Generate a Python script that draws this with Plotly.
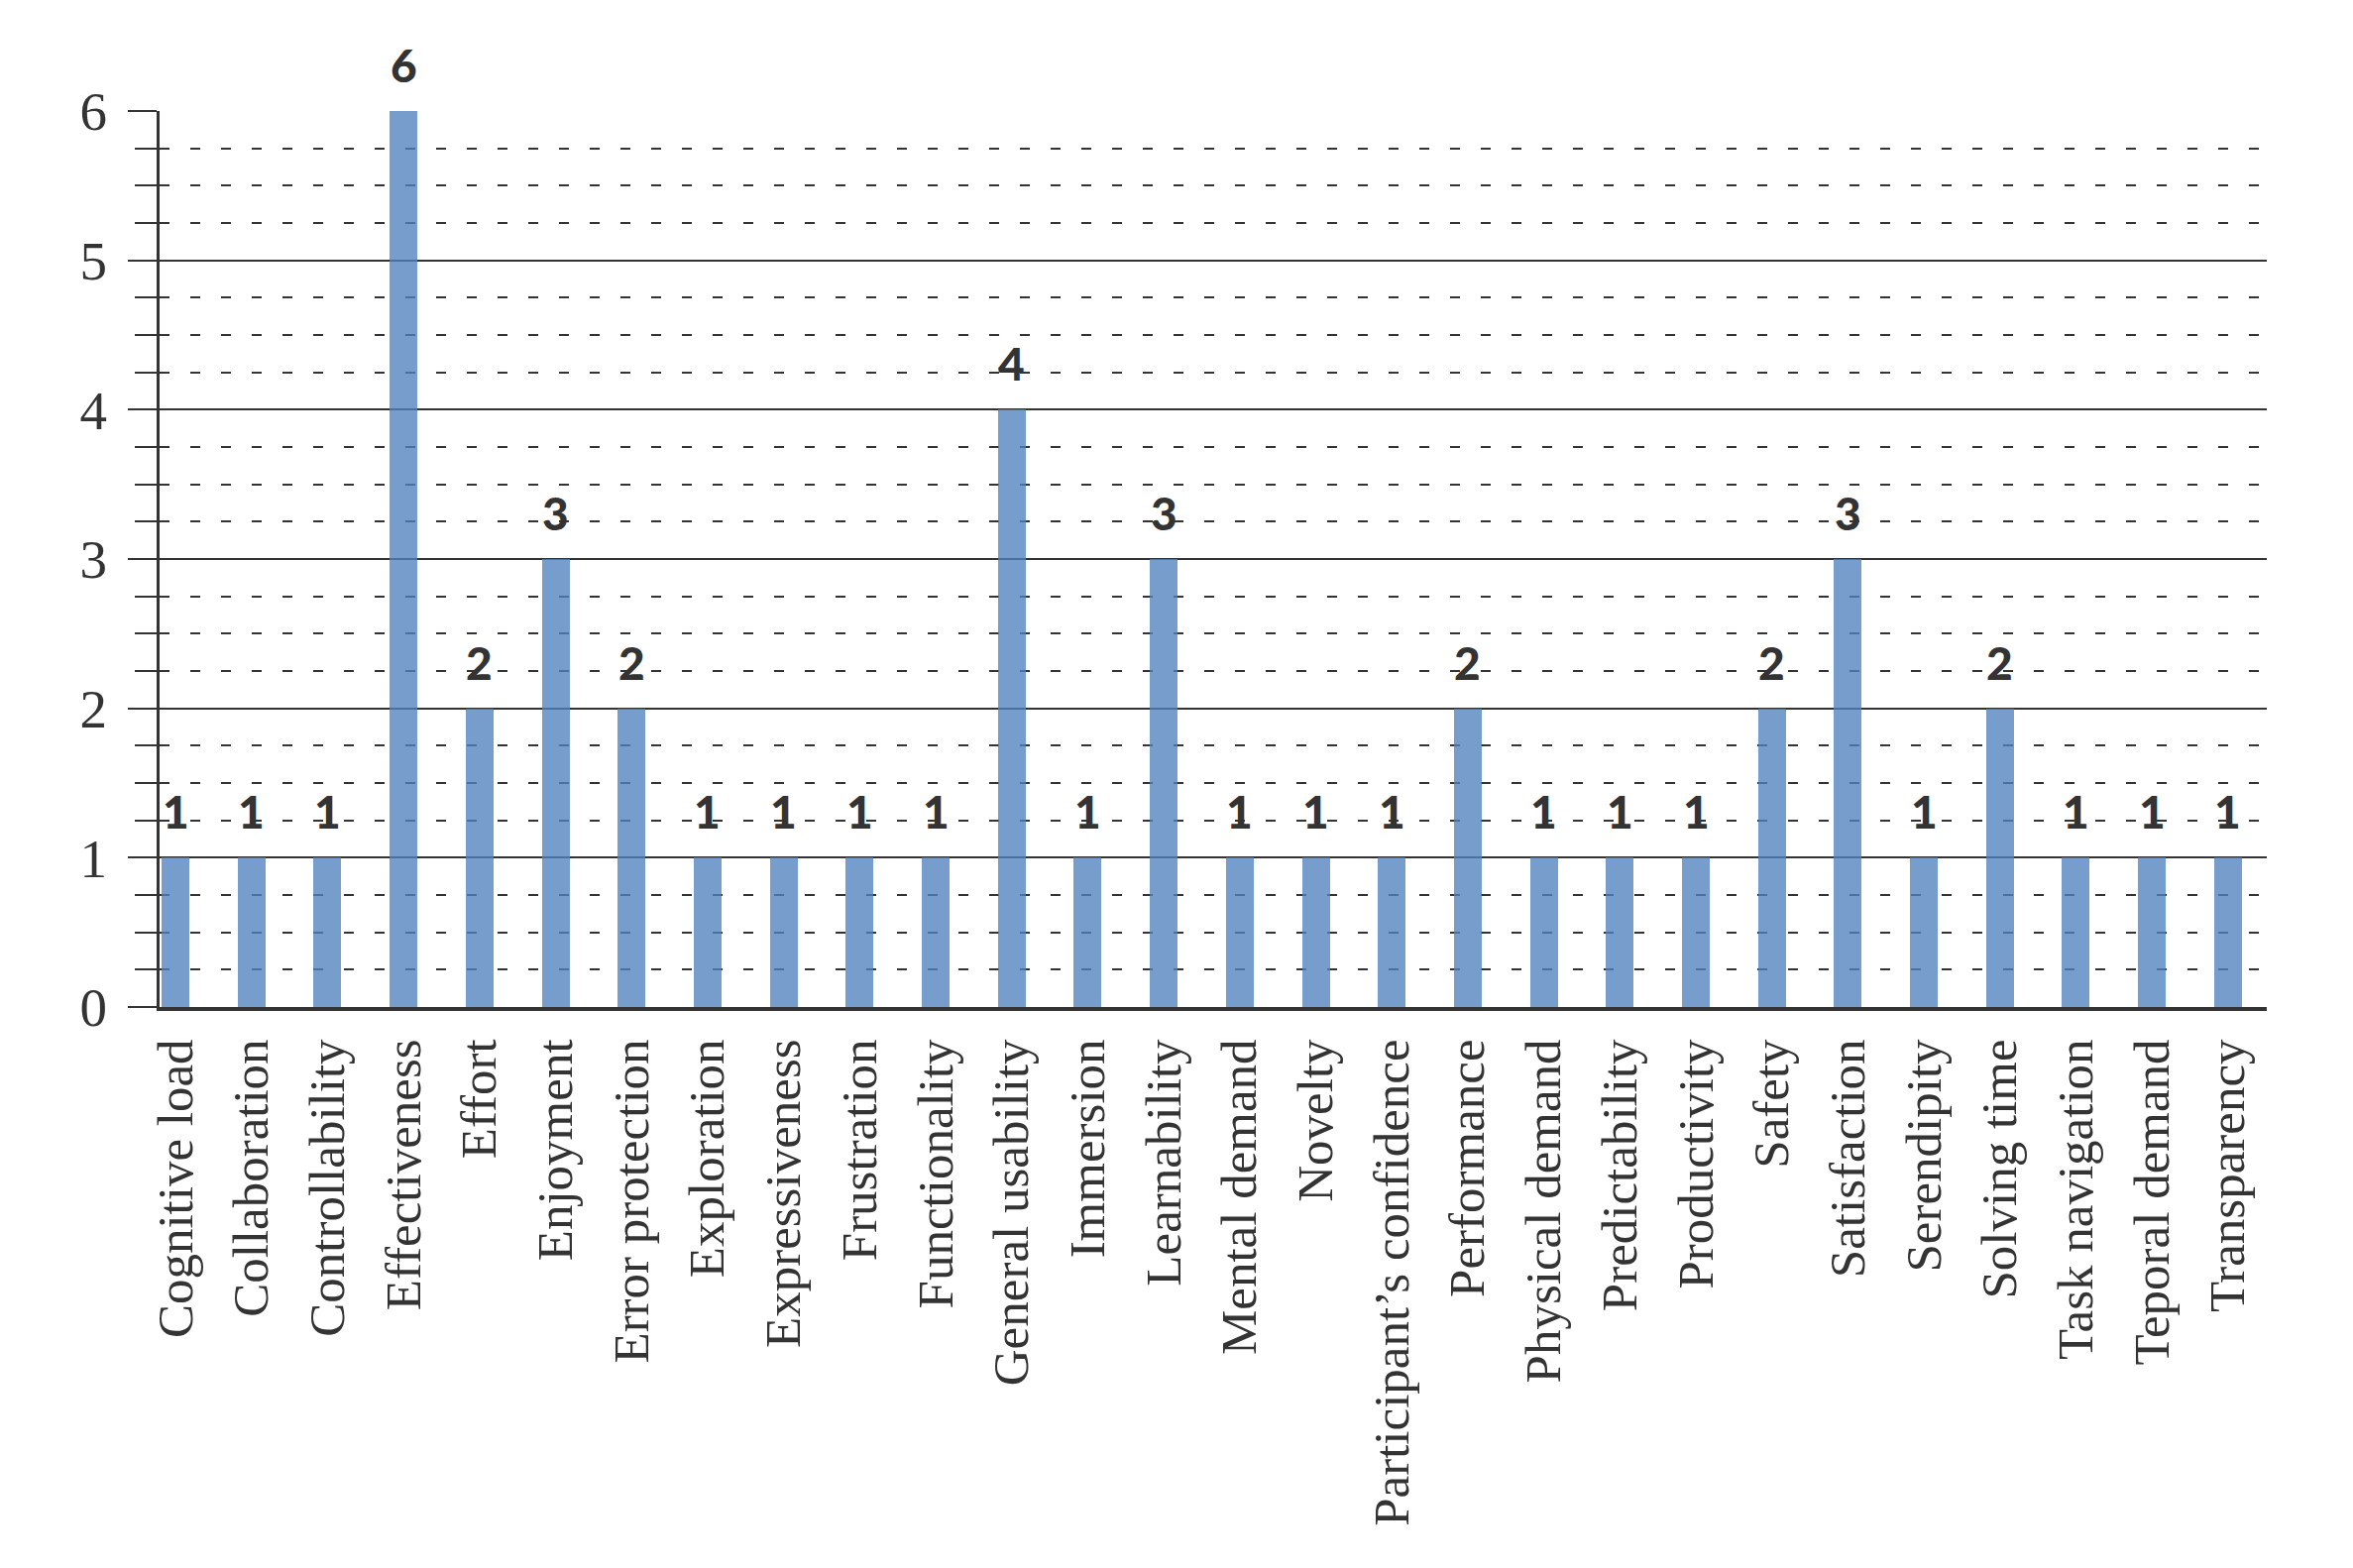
import plotly.graph_objects as go

categories = [
    "Cognitive load", "Collaboration", "Controllability", "Effectiveness", "Effort",
    "Enjoyment", "Error protection", "Exploration", "Expressiveness", "Frustration",
    "Functionality", "General usability", "Immersion", "Learnability", "Mental demand",
    "Novelty", "Participant\u2019s confidence", "Performance", "Physical demand",
    "Predictability", "Productivity", "Safety", "Satisfaction", "Serendipity",
    "Solving time", "Task navigation", "Teporal demand", "Transparency",
]
counts = [1, 1, 1, 6, 2, 3, 2, 1, 1, 1, 1, 4, 1, 3, 1, 1, 1, 2, 1, 1, 1, 2, 3, 1, 2, 1, 1, 1]
y_ticks = [0, 1, 2, 3, 4, 5, 6]

INK = "#333333"
BAR = "rgba(79,129,189,0.78)"

fig = go.Figure()
fig.add_trace(go.Bar(
    x=categories, y=counts, width=0.365,
    marker=dict(color=BAR, line=dict(width=0)),
    hoverinfo="x+y",
))

for c, v in zip(categories, counts):
    fig.add_annotation(
        x=c, y=v, text=str(v), showarrow=False, yanchor="bottom", xanchor="center",
        yshift=17, font=dict(family="Lato", size=46, color=INK, weight=900),
    )

fig.update_layout(
    width=2374, height=1582,
    margin=dict(l=161, r=87, t=112, b=566, pad=0),
    paper_bgcolor="white", plot_bgcolor="white",
    showlegend=False,
    bargap=0,
)

fig.update_xaxes(
    type="category", range=[-0.209, 27.51],
    showline=True, linewidth=4, linecolor=INK,
    ticks="", tickangle=-90, ticklabelstandoff=8,
    tickfont=dict(family="Liberation Serif", size=51, color=INK),
    showgrid=False, zeroline=False,
)

fig.update_yaxes(
    range=[0, 6], tickvals=y_ticks,
    showline=True, linewidth=3, linecolor=INK,
    ticks="outside", ticklen=29, tickwidth=2, tickcolor=INK,
    ticklabelstandoff=10,
    tickfont=dict(family="Liberation Serif", size=55, color=INK),
    showgrid=True, gridcolor=INK, gridwidth=2,
    zeroline=False,
    minor=dict(dtick=0.25, showgrid=True, gridcolor=INK, gridwidth=2,
               griddash="10px,21px", ticks="outside", ticklen=22,
               tickwidth=2, tickcolor=INK),
)

fig.write_html("out.html", config={"displayModeBar": False},
               post_script="document.body.style.margin='0px';")
